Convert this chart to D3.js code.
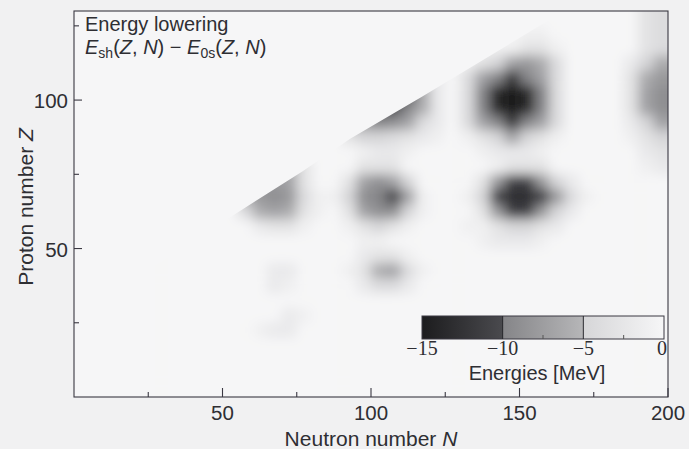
<!DOCTYPE html>
<html><head><meta charset="utf-8">
<script src="https://cdn.jsdelivr.net/npm/d3@7"></script>
<style>
html,body{margin:0;padding:0;background:#f1f1f2;}
svg{display:block;}
</style></head><body>
<svg id="chart" width="689" height="449"></svg>
<script>
// Shell-energy lowering |E| in MeV (hex digit per 5x5 cell), rows from Z=125-130 (top) to Z=0-5 (bottom),
// columns N = 0-5 ... 195-200
const energyRows = [
  "0000000000" + "0000000000" + "0000000000" + "0000000034", // Z 125
  "0000000000" + "0000000000" + "0000000000" + "1100000034", // Z 120
  "0000000000" + "0000000000" + "0000000111" + "3310000034", // Z 115
  "0000000000" + "0000000000" + "0000001357" + "8640000256", // Z 110
  "0000000000" + "0000000000" + "0aa52047ac" + "a740000368", // Z 105
  "0000000000" + "0000000000" + "bbb6204aef" + "ea40000379", // Z 100
  "0000000000" + "0000000008" + "bba6204aef" + "ea40000379", // Z 95
  "0000000000" + "0000000068" + "a9742047ac" + "a740000257", // Z 90
  "0000000000" + "0000000035" + "5432101357" + "5310000135", // Z 85
  "0000000000" + "0000000001" + "2210000122" + "2100000023", // Z 80
  "0000000000" + "0006630003" + "3300000013" + "3300000012", // Z 75
  "0000000000" + "0888730037" + "975000038b" + "b852000000", // Z 70
  "0000000000" + "0689841159" + "ab710015bd" + "db84100000", // Z 65
  "0000000000" + "0467631037" + "995100038b" + "b852000000", // Z 60
  "0000000000" + "0023310013" + "5310001135" + "5320000000", // Z 55
  "0000000000" + "0000000001" + "1000000122" + "2100000000", // Z 50
  "0000000000" + "0000000002" + "3310000000" + "0000000000", // Z 45
  "0000000000" + "0002200013" + "6741000000" + "0000000000", // Z 40
  "0000000000" + "0002100002" + "4420000000" + "0000000000", // Z 35
  "0000000000" + "0000000000" + "0000000000" + "0000000000", // Z 30
  "0000000000" + "0000210000" + "0000000000" + "0000000000", // Z 25
  "0000000000" + "0012200000" + "0000000000" + "0000000000", // Z 20
  "0000000000" + "0000000000" + "0000000000" + "0000000000", // Z 15
  "0000000000" + "0000000000" + "0000000000" + "0000000000", // Z 10
  "0000000000" + "0000000000" + "0000000000" + "0000000000", // Z 5
  "0000000000" + "0000000000" + "0000000000" + "0000000000"  // Z 0
];
const binN = 5, binZ = 5;
// upper-left limit of the computed region (proton drip side)
const dripN = [0, 58, 77, 93, 117, 165, 200];
const dripZ = [27, 64, 76, 87, 101, 130, 130];

const xTicksMajor = [50, 100, 150, 200];
const xTicksMinor = [25, 75, 125, 175];
const yTicksMajor = [50, 100];
const yTicksMinor = [25, 75, 125];
const cbarTicks = [-15, -10, -5, 0];
const cbarDividers = [-10, -5];
const cbarMinor = [-7.5, -2.5];
const colorDomain = [-15, -10.001, -10, -5.001, -5, 0];
const colorRange = ["#1c1c1e", "#4a4a4e", "#858588", "#b6b6b8", "#d6d6d8", "#f6f6f7"];

const svg = d3.select("#chart");
const P = {l: 74, r: 668, t: 11, b: 397};
const x = d3.scaleLinear().domain([0, 200]).range([P.l, P.r]);
const y = d3.scaleLinear().domain([0, 130]).range([P.b, P.t]);
const color = d3.scaleLinear().domain(colorDomain).range(colorRange).clamp(true);
const axisCol = "#3a3842", textCol = "#2e2e33";
const sans = "'Liberation Sans', Arial, Helvetica, sans-serif";
const serif = "'Liberation Serif', 'Times New Roman', serif";

const defs = svg.append("defs");
defs.append("clipPath").attr("id", "dataClip").append("path")
  .attr("d", d3.line()(dripN.map((n, k) => [x(n), y(dripZ[k])])
    .concat([[x(200), y(0)], [x(0), y(0)]])) + "Z");
const filt = defs.append("filter").attr("id", "soft")
  .attr("filterUnits", "userSpaceOnUse")
  .attr("x", 0).attr("y", -40).attr("width", 720).attr("height", 500);
filt.append("feGaussianBlur").attr("stdDeviation", 6);

// plot background
svg.append("rect").attr("x", P.l).attr("y", P.t).attr("width", P.r - P.l).attr("height", P.b - P.t)
  .attr("fill", color(0));

// heat cells
const cells = [];
const nRows = energyRows.length;
energyRows.forEach((row, r) => {
  const j = nRows - 1 - r;
  for (let i = 0; i < row.length; i++) {
    cells.push({i, j, n0: i * binN, z0: j * binZ, e: -parseInt(row[i], 16), nCols: row.length});
  }
});
const heat = svg.append("g").attr("clip-path", "url(#dataClip)")
  .append("g").attr("filter", "url(#soft)");
heat.selectAll("rect").data(cells).join("rect")
  .attr("x", d => x(d.n0) - (d.i === 0 ? 12 : 0))
  .attr("y", d => y(d.z0 + binZ) - (d.j === nRows - 1 ? 12 : 0))
  .attr("width", d => x(d.n0 + binN) - x(d.n0) + 0.6 + (d.i === 0 || d.i === d.nCols - 1 ? 12 : 0))
  .attr("height", d => y(d.z0) - y(d.z0 + binZ) + 0.6 + (d.j === 0 || d.j === nRows - 1 ? 12 : 0))
  .attr("fill", d => color(d.e));

// frame
svg.append("rect").attr("x", P.l).attr("y", P.t).attr("width", P.r - P.l).attr("height", P.b - P.t)
  .attr("fill", "none").attr("stroke", axisCol).attr("stroke-width", 1.1);

// ticks (inward)
const tk = svg.append("g").attr("stroke", axisCol).attr("stroke-width", 1.1);
xTicksMajor.forEach(t => tk.append("line").attr("x1", x(t)).attr("x2", x(t)).attr("y1", P.b).attr("y2", P.b - 9));
xTicksMinor.forEach(t => tk.append("line").attr("x1", x(t)).attr("x2", x(t)).attr("y1", P.b).attr("y2", P.b - 5));
yTicksMajor.forEach(t => tk.append("line").attr("y1", y(t)).attr("y2", y(t)).attr("x1", P.l).attr("x2", P.l + 8));
yTicksMinor.forEach(t => tk.append("line").attr("y1", y(t)).attr("y2", y(t)).attr("x1", P.l).attr("x2", P.l + 5));

// tick labels
svg.append("g").selectAll("text").data(xTicksMajor).join("text")
  .attr("x", d => x(d)).attr("y", 420).attr("text-anchor", "middle")
  .attr("font-family", sans).attr("font-size", 20.5).attr("fill", textCol).text(d => d);
svg.append("g").selectAll("text").data(yTicksMajor).join("text")
  .attr("x", 68).attr("y", d => y(d) + 8).attr("text-anchor", "end")
  .attr("font-family", sans).attr("font-size", 20.5).attr("fill", textCol).text(d => d);

// axis titles
const xt = svg.append("text").attr("x", (P.l + P.r) / 2).attr("y", 446).attr("text-anchor", "middle")
  .attr("font-family", sans).attr("font-size", 21).attr("fill", textCol);
xt.append("tspan").text("Neutron number ");
xt.append("tspan").attr("font-style", "italic").text("N");
const yt = svg.append("text").attr("transform", "translate(33,207) rotate(-90)").attr("text-anchor", "middle")
  .attr("font-family", sans).attr("font-size", 21).attr("fill", textCol);
yt.append("tspan").text("Proton number ");
yt.append("tspan").attr("font-style", "italic").text("Z");

// in-plot title
svg.append("text").attr("x", 85).attr("y", 31).attr("font-family", sans).attr("font-size", 20)
  .attr("fill", textCol).text("Energy lowering");
const t2 = svg.append("text").attr("x", 85).attr("y", 54).attr("font-family", sans).attr("font-size", 20)
  .attr("fill", textCol);
const parts = [
  ["E", "italic"], ["sh", "sub"], ["(", ""], ["Z", "italic"], [", ", ""], ["N", "italic"],
  [") \u2212 ", ""], ["E", "italic"], ["0s", "sub"], ["(", ""], ["Z", "italic"], [", ", ""],
  ["N", "italic"], [")", ""]
];
let prevSub = false;
parts.forEach(([s, st]) => {
  const ts = t2.append("tspan").text(s);
  if (st === "italic") ts.attr("font-style", "italic");
  if (st === "sub") { ts.attr("font-size", 14).attr("dy", 4); prevSub = true; }
  else if (prevSub) { ts.attr("dy", -4); prevSub = false; }
});

// colorbar
const cb = {x0: 422, x1: 664, y0: 316, y1: 339};
const cx = d3.scaleLinear().domain([-15, 0]).range([cb.x0, cb.x1]);
const grad = defs.append("linearGradient").attr("id", "cbGrad")
  .attr("gradientUnits", "userSpaceOnUse").attr("x1", cb.x0).attr("x2", cb.x1).attr("y1", 0).attr("y2", 0);
colorDomain.forEach((v, k) => grad.append("stop")
  .attr("offset", (cx(v) - cb.x0) / (cb.x1 - cb.x0)).attr("stop-color", colorRange[k]));
svg.append("rect").attr("x", cb.x0).attr("y", cb.y0).attr("width", cb.x1 - cb.x0).attr("height", cb.y1 - cb.y0)
  .attr("fill", "url(#cbGrad)").attr("stroke", axisCol).attr("stroke-width", 1);
svg.append("g").selectAll("line").data(cbarDividers).join("line")
  .attr("x1", d => cx(d)).attr("x2", d => cx(d)).attr("y1", cb.y0).attr("y2", cb.y1)
  .attr("stroke", "#2a2a2e").attr("stroke-width", 1);
svg.append("g").selectAll("line").data(cbarMinor).join("line")
  .attr("x1", d => cx(d)).attr("x2", d => cx(d)).attr("y1", cb.y1).attr("y2", cb.y1 - 4)
  .attr("stroke", "#555").attr("stroke-width", 1);
svg.append("g").selectAll("text").data(cbarTicks).join("text")
  .attr("x", d => cx(d) - (d === 0 ? 2 : 0)).attr("y", 355).attr("text-anchor", "middle")
  .attr("font-family", serif).attr("font-size", 20).attr("fill", textCol)
  .text(d => d < 0 ? "\u2212" + Math.abs(d) : String(d));
svg.append("text").attr("x", 537).attr("y", 380).attr("text-anchor", "middle")
  .attr("font-family", sans).attr("font-size", 20).attr("fill", textCol).text("Energies [MeV]");
</script>
</body></html>
